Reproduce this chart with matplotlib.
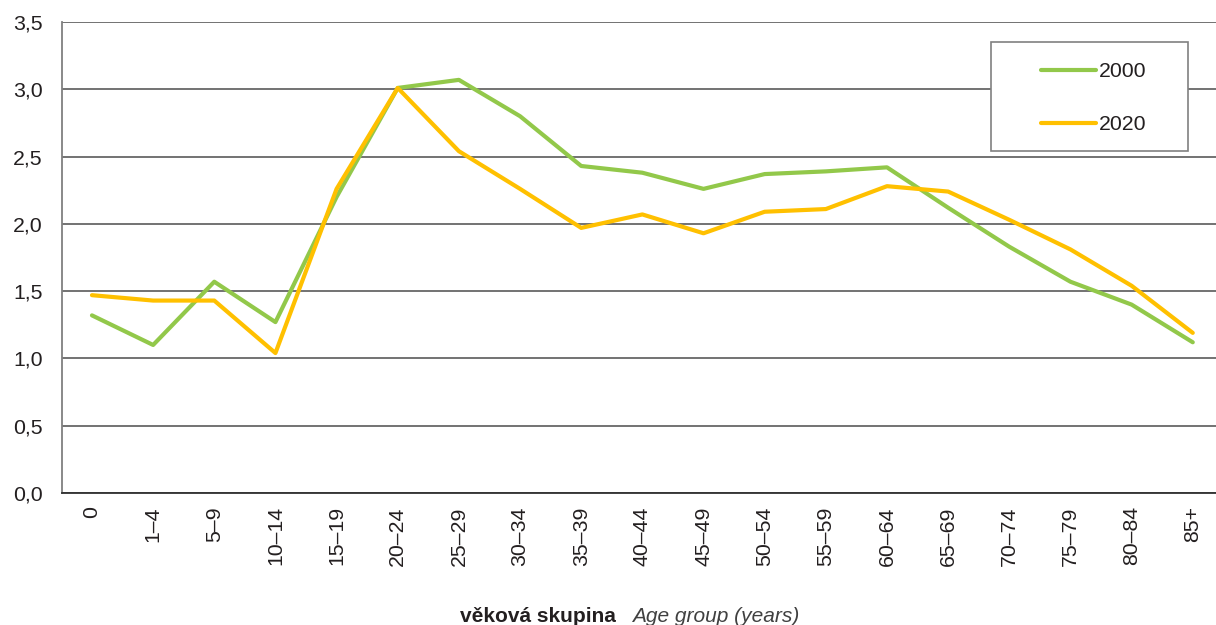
import matplotlib
matplotlib.use("Agg")
import matplotlib.pyplot as plt
from matplotlib.patches import Rectangle
from matplotlib.ticker import FuncFormatter, MultipleLocator

plt.rcParams["font.family"] = ["Liberation Sans", "DejaVu Sans"]

age_groups = ["0", "1–4", "5–9", "10–14", "15–19", "20–24", "25–29", "30–34",
              "35–39", "40–44", "45–49", "50–54", "55–59", "60–64", "65–69",
              "70–74", "75–79", "80–84", "85+"]
values_2000 = [1.32, 1.10, 1.57, 1.27, 2.20, 3.01, 3.07, 2.80, 2.43, 2.38,
               2.26, 2.37, 2.39, 2.42, 2.12, 1.83, 1.57, 1.40, 1.12]
values_2020 = [1.47, 1.43, 1.43, 1.04, 2.26, 3.01, 2.54, 2.26, 1.97, 2.07,
               1.93, 2.09, 2.11, 2.28, 2.24, 2.03, 1.81, 1.54, 1.19]
series_labels = ["2000", "2020"]

GREEN = "#92C84A"
ORANGE = "#FFC000"
GRID = "#5a5a5a"
TEXT = "#231F20"
FS = 15.3

fig = plt.figure(figsize=(12.16, 6.25), dpi=100)
ax = fig.add_axes([62 / 1216, 1 - 493 / 625, 1 - 62 / 1216, (493 - 22) / 625])

x = list(range(len(age_groups)))
ax.plot(x, values_2000, color=GREEN, lw=3.0, solid_capstyle="round",
        solid_joinstyle="round", label=series_labels[0], zorder=3)
ax.plot(x, values_2020, color=ORANGE, lw=3.0, solid_capstyle="round",
        solid_joinstyle="round", label=series_labels[1], zorder=3)

ax.set_ylim(0, 3.5)
ax.set_xlim(-0.49, 18.38)
ax.yaxis.set_major_locator(MultipleLocator(0.5))
ax.yaxis.set_major_formatter(FuncFormatter(lambda v, _: f"{v:.1f}".replace(".", ",")))
ax.grid(axis="y", color=GRID, lw=1.2, zorder=1)
ax.set_axisbelow(True)

ax.set_xticks(x)
ax.set_xticklabels(age_groups, rotation=90, va="top", ha="center")
ax.tick_params(axis="both", length=0, labelsize=FS, colors=TEXT)
ax.tick_params(axis="x", pad=9.5)
ax.tick_params(axis="y", pad=14)

for side in ("top", "right"):
    ax.spines[side].set_visible(False)
ax.spines["left"].set_color("#808080")
ax.spines["left"].set_linewidth(1.3)
ax.spines["bottom"].set_color("#303030")
ax.spines["bottom"].set_linewidth(1.3)

# legend box
bx0, by0 = (991 - 62) / 1154, (493 - 151) / 471
bw, bh = (1188 - 991) / 1154, (151 - 42) / 471
ax.add_patch(Rectangle((bx0, by0), bw, bh, transform=ax.transAxes,
                       facecolor="white", edgecolor="#808080", lw=1.2, zorder=4))
leg = ax.legend(loc="center",
                bbox_to_anchor=(bx0 + bw / 2 + 4 / 1154, by0 + bh / 2 - 2 / 471),
                frameon=False, fontsize=FS, handlelength=2.6,
                handletextpad=0.15, labelspacing=1.6)
leg.set_zorder(5)
for t in leg.get_texts():
    t.set_color(TEXT)

fig.text(616 / 1216, 3.5 / 625, "věková skupina", ha="right", va="baseline",
         fontsize=15, fontweight="bold", color=TEXT)
fig.text(632 / 1216, 3.5 / 625, "Age group (years)", ha="left", va="baseline",
         fontsize=15, fontstyle="italic", color="#404040")

fig.savefig("out.png", dpi=100)
